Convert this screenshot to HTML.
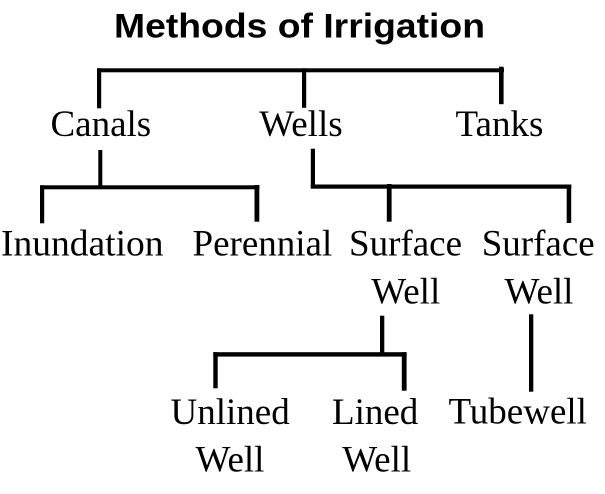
<!DOCTYPE html>
<html>
<head>
<meta charset="utf-8">
<style>
  html, body { margin: 0; padding: 0; background: #fff; }
  body { width: 605px; height: 494px; overflow: hidden; }
  svg { display: block; }
  .t { font-family: "Liberation Serif", "Times New Roman", serif; font-size: 37px; fill: #000; }
  .h { font-family: "Liberation Sans", Arial, sans-serif; font-weight: bold; font-size: 34px; fill: #000; }
</style>
</head>
<body>
<svg width="605" height="494" viewBox="0 0 605 494" xmlns="http://www.w3.org/2000/svg">
  <rect x="0" y="0" width="605" height="494" fill="#fff"/>

  <!-- Title -->
  <text class="h" x="114" y="37.5" textLength="371" lengthAdjust="spacingAndGlyphs">Methods of Irrigation</text>

  <g fill="#000">
    <!-- Top bracket -->
    <rect x="97" y="68.3" width="407" height="4"/>
    <rect x="97" y="68.3" width="4.2" height="40"/>
    <rect x="302" y="68.3" width="4.2" height="39.5"/>
    <rect x="499" y="66.7" width="4.6" height="37.5"/>

    <!-- Canals bracket -->
    <rect x="98.3" y="150" width="4" height="37"/>
    <rect x="40" y="185.3" width="219.3" height="4"/>
    <rect x="40" y="185.3" width="4.2" height="38"/>
    <rect x="254.5" y="185" width="4.8" height="36.7"/>

    <!-- Wells bracket -->
    <rect x="310.8" y="148.7" width="4.2" height="39.5"/>
    <rect x="310.8" y="184.5" width="260.5" height="4.2"/>
    <rect x="386.8" y="184" width="4.8" height="37.7"/>
    <rect x="566.7" y="184.5" width="4.5" height="38.5"/>

    <!-- Surface Well bracket -->
    <rect x="380" y="315.7" width="4.3" height="38"/>
    <rect x="213.3" y="352.2" width="193.3" height="4.4"/>
    <rect x="213.3" y="352.2" width="4.4" height="36.1"/>
    <rect x="401.8" y="352.2" width="4.8" height="38.5"/>

    <!-- Tubewell connector -->
    <rect x="529" y="314.3" width="4.3" height="77.4"/>
  </g>

  <!-- Level 1 -->
  <text class="t" x="50.5" y="136">Canals</text>
  <text class="t" x="259.3" y="136">Wells</text>
  <text class="t" x="455.5" y="136">Tanks</text>

  <!-- Level 2 -->
  <text class="t" x="1" y="255.5" textLength="162.5" lengthAdjust="spacingAndGlyphs">Inundation</text>
  <text class="t" x="192.5" y="255.5">Perennial</text>
  <text class="t" x="349" y="255.5">Surface</text>
  <text class="t" x="481.7" y="255.5">Surface</text>
  <text class="t" x="371.3" y="303.5">Well</text>
  <text class="t" x="504.5" y="303.5">Well</text>

  <!-- Level 3 -->
  <text class="t" x="170.5" y="424">Unlined</text>
  <text class="t" x="332" y="424">Lined</text>
  <text class="t" x="448.5" y="423.5">Tubewell</text>
  <text class="t" x="195.5" y="471.7">Well</text>
  <text class="t" x="342.2" y="471.7">Well</text>
</svg>
</body>
</html>
